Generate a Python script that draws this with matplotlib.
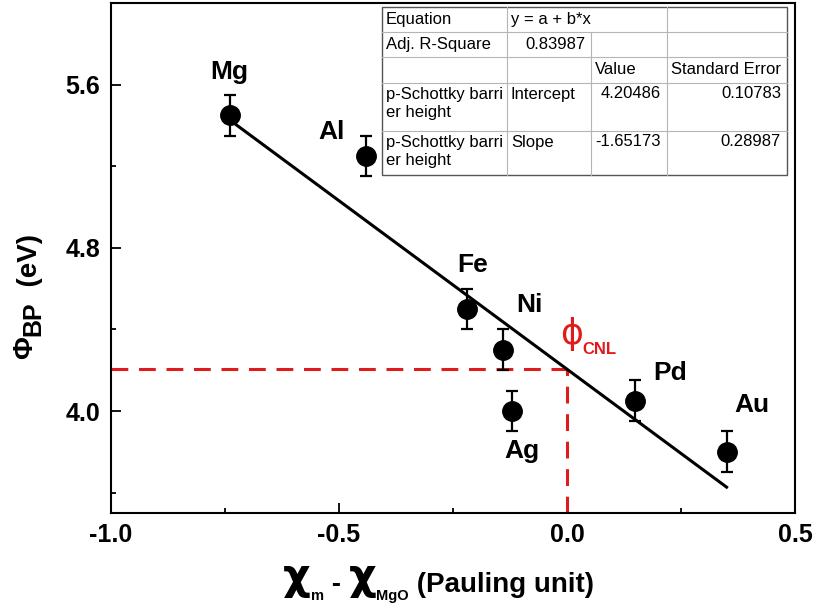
import numpy as np
import matplotlib
matplotlib.use('Agg')
import matplotlib.pyplot as plt

# data
metals = ['Mg', 'Al', 'Fe', 'Ni', 'Ag', 'Pd', 'Au']
chi_diff = [-0.74, -0.44, -0.22, -0.14, -0.12, 0.15, 0.35]
phi_bp = [5.45, 5.25, 4.50, 4.30, 4.00, 4.05, 3.80]
phi_err = [0.10, 0.10, 0.10, 0.10, 0.10, 0.10, 0.10]

# linear fit y = a + b*x (from the inset table)
fit_a = 4.20486
fit_b = -1.65173
fit_a_se = 0.10783
fit_b_se = 0.28987
adj_r2 = 0.83987

x_major = [-1.0, -0.5, 0.0, 0.5]
x_minor = [-0.75, -0.25, 0.25]
y_major = [4.0, 4.8, 5.6]
y_minor = [3.6, 4.4, 5.2]

plt.rcParams['font.family'] = ['Liberation Sans', 'DejaVu Sans']
plt.rcParams['axes.unicode_minus'] = False

W, H = 816, 612
RED = '#e01b1b'

fig = plt.figure(figsize=(W / 100, H / 100), dpi=100)
ax = fig.add_axes([111 / W, 1 - 513 / H, 684 / W, 510 / H])
ax.set_xlim(-1.0, 0.5)
ax.set_ylim(3.5, 6.0)

# points + error bars
ax.errorbar(chi_diff, phi_bp, yerr=phi_err, fmt='o', color='black', ms=14,
            elinewidth=1.6, capsize=4.5, capthick=1.6, zorder=4)

# fit line over the data range
xs = np.array([min(chi_diff), max(chi_diff)])
ax.plot(xs, fit_a + fit_b * xs, color='black', lw=2.2, zorder=3)

# charge neutrality level guides
x0, y0 = ax.get_xlim()[0], ax.get_ylim()[0]
ax.plot([x0, 0.0], [fit_a, fit_a], color=RED, lw=2.2, ls=(0, (5.5, 3.5)), zorder=2)
ax.plot([0.0, 0.0], [y0, fit_a], color=RED, lw=2.2, ls=(0, (5.5, 3.5)), zorder=2)
ax.annotate('\u03d5', (0.0, fit_a), xytext=(3.6, 25), textcoords='offset points',
            ha='center', va='center', fontsize=25, color=RED, family='DejaVu Sans')
ax.annotate('CNL', (0.0, fit_a), xytext=(10.8, 10.8), textcoords='offset points',
            ha='left', va='baseline', fontsize=12, color=RED, fontweight='bold')

# metal labels
label_offsets = [(0, 31), (-25, 17), (4, 32), (19, 32), (7, -29), (25, 20), (18, 34)]
for name, x, y, off in zip(metals, chi_diff, phi_bp, label_offsets):
    ax.annotate(name, (x, y), xytext=off, textcoords='offset points',
                ha='center', va='center', fontsize=19, fontweight='bold')

ax.set_xticks(x_major)
ax.set_xticks(x_minor, minor=True)
ax.set_yticks(y_major)
ax.set_yticks(y_minor, minor=True)
ax.set_xticklabels([f'{v:.1f}' for v in x_major])
ax.set_yticklabels([f'{v:.1f}' for v in y_major])
ax.tick_params(which='both', direction='in', width=1.3)
ax.tick_params(which='major', length=7)
ax.tick_params(which='minor', length=3.5)
ax.tick_params(axis='x', pad=7, labelsize=18)
ax.tick_params(axis='y', pad=8, labelsize=18)
for lab in ax.get_xticklabels() + ax.get_yticklabels():
    lab.set_fontweight('bold')
for sp in ax.spines.values():
    sp.set_linewidth(1.5)

# overlay in pixel coordinates for the table and axis titles
ov = fig.add_axes([0, 0, 1, 1], zorder=5)
ov.set_xlim(0, W)
ov.set_ylim(H, 0)
ov.axis('off')


def chain(pieces, start, base, rotated=False):
    prev = None
    for text, size, shift, fam in pieces:
        kw = dict(fontsize=size, fontweight='bold', family=fam, annotation_clip=False)
        if not rotated:
            y = base + shift
            if prev is None:
                t = ov.annotate(text, (start, y), ha='left', va='baseline', **kw)
            else:
                t = ov.annotate(text, (1, y), xycoords=(prev, 'data'),
                                ha='left', va='baseline', **kw)
        else:
            x = base + shift
            if prev is None:
                t = ov.annotate(text, (x, start), ha='right', va='bottom', rotation=90, **kw)
            else:
                t = ov.annotate(text, (x, 1), xycoords=('data', prev),
                                ha='right', va='bottom', rotation=90, **kw)
        prev = t


# x title
chain([('\u03c7', 31, -3, 'DejaVu Sans'),
       ('m', 10.5, 8, 'Liberation Sans'),
       (' - ', 20, 0, 'Liberation Sans'),
       ('\u03c7', 31, -3, 'DejaVu Sans'),
       ('MgO', 10.5, 8, 'Liberation Sans'),
       (' (Pauling unit)', 20, 0, 'Liberation Sans')], 283, 592)

# y title
chain([('\u03a6', 20, 0, 'Liberation Sans'),
       ('BP', 18, 7, 'Liberation Sans'),
       ('  (eV)', 20, 5, 'Liberation Sans')], 359, 38, rotated=True)

# fit result table
col_edges = [382, 507, 591, 667, 787]
row_edges = [7, 32, 57, 83, 131, 175]
ov.add_patch(plt.Rectangle((col_edges[0], row_edges[0]), col_edges[-1] - col_edges[0],
                           row_edges[-1] - row_edges[0], facecolor='white',
                           edgecolor='#555555', lw=1.0))
for yy in row_edges[1:-1]:
    ov.plot([col_edges[0], col_edges[-1]], [yy, yy], color='#b5b5b5', lw=0.8)
for xx in (col_edges[1], col_edges[3]):
    ov.plot([xx, xx], [row_edges[0], row_edges[-1]], color='#b5b5b5', lw=0.8)
ov.plot([col_edges[2], col_edges[2]], [row_edges[1], row_edges[-1]], color='#b5b5b5', lw=0.8)

row_label = ['p-Schottky barri', 'er height']
cells = [
    (0, 0, ['Equation'], 'l'), (0, 1, ['y = a + b*x'], 'l'),
    (1, 0, ['Adj. R-Square'], 'l'), (1, 1, [f'{adj_r2:.5f}'], 'r'),
    (2, 2, ['Value'], 'l'), (2, 3, ['Standard Error'], 'l'),
    (3, 0, row_label, 'l'), (3, 1, ['Intercept'], 'l'),
    (3, 2, [f'{fit_a:.5f}'], 'r'), (3, 3, [f'{fit_a_se:.5f}'], 'r'),
    (4, 0, row_label, 'l'), (4, 1, ['Slope'], 'l'),
    (4, 2, [f'{fit_b:.5f}'], 'r'), (4, 3, [f'{fit_b_se:.5f}'], 'r'),
]
for r, c, lines, al in cells:
    top, bot = row_edges[r], row_edges[r + 1]
    if al == 'l':
        tx, ha = col_edges[c] + 4, 'left'
    else:
        tx, ha = col_edges[c + 1] - 6, 'right'
    for i, txt in enumerate(lines):
        if r < 3:
            ty = (top + bot) / 2
        else:
            ty = top + 11 + 18 * i
        ov.text(tx, ty, txt, ha=ha, va='center', fontsize=12)

fig.savefig('out.png', dpi=100)
